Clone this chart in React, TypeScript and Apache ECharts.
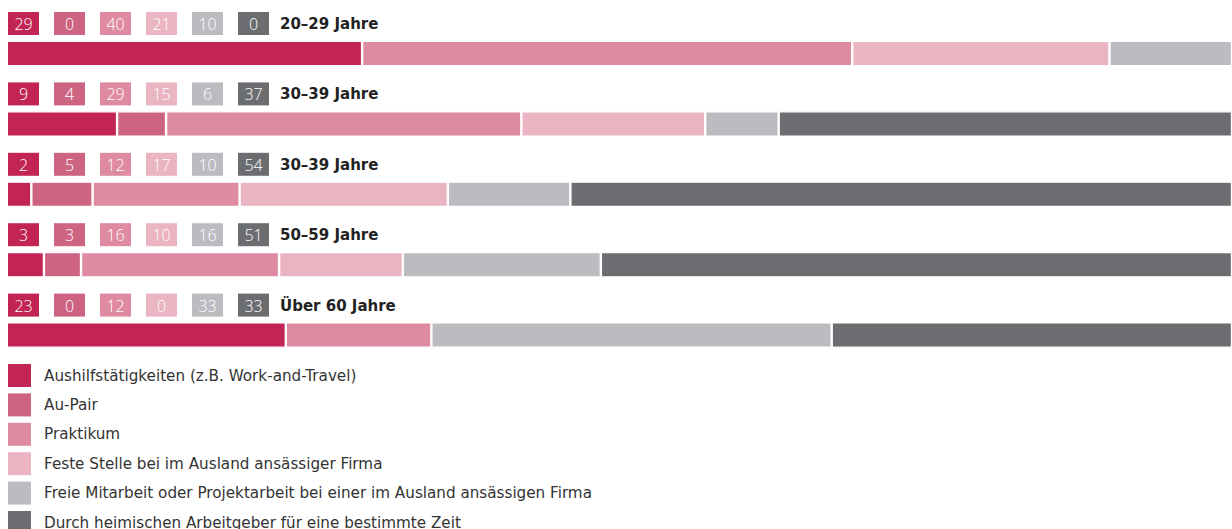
import React, { useEffect, useRef } from "react";
import * as echarts from "echarts";

const categories = ["20–29 Jahre", "30–39 Jahre", "30–39 Jahre", "50–59 Jahre", "Über 60 Jahre"];
const seriesNames = [
  "Aushilfstätigkeiten (z.B. Work-and-Travel)",
  "Au-Pair",
  "Praktikum",
  "Feste Stelle bei im Ausland ansässiger Firma",
  "Freie Mitarbeit oder Projektarbeit bei einer im Ausland ansässigen Firma",
  "Durch heimischen Arbeitgeber für eine bestimmte Zeit",
];
const aushilfe = [29, 9, 2, 3, 23];
const auPair = [0, 4, 5, 3, 0];
const praktikum = [40, 29, 12, 16, 12];
const feste = [21, 15, 17, 10, 0];
const freie = [10, 6, 10, 16, 33];
const durch = [0, 37, 54, 51, 33];

const seriesValues = [aushilfe, auPair, praktikum, feste, freie, durch];
const colors = ["#C22454", "#CC6482", "#DE8AA0", "#EAB4C3", "#BBBCC0", "#6C6D71"];

const W = 1232;
const H = 529;
const GRID_TOP = 18.3;
const BAND = 70.4;
const BAR_W = 23;
const BORDER = 1.2;
const FONT = "'DejaVu Sans', 'Open Sans', sans-serif";
const NUM_FONT = "'Open Sans', Roboto, sans-serif";

export default function App() {
  const ref = useRef<HTMLDivElement>(null);
  useEffect(() => {
    if (!ref.current) return;
    const chart = echarts.init(ref.current, null, { renderer: "svg" });
    const rowSums = categories.map((_, i) => seriesValues.reduce((s, arr) => s + arr[i], 0));

    const series = seriesValues.map((arr, j) => ({
      name: seriesNames[j],
      type: "bar",
      stack: "total",
      barWidth: BAR_W + 2 * BORDER,
      itemStyle: { color: colors[j], borderColor: "#ffffff", borderWidth: BORDER },
      emphasis: { disabled: true },
      data: arr.map((v, i) =>
        v === 0
          ? { value: 0, itemStyle: { borderWidth: 0 } }
          : { value: (v / rowSums[i]) * 100 }
      ),
    }));

    const graphics: any[] = [];
    categories.forEach((cat, i) => {
      const center = GRID_TOP + BAND * (i + 0.5);
      const boxTop = center - BAR_W / 2 - 30;
      seriesValues.forEach((arr, j) => {
        const x = 8 + j * 46;
        graphics.push({
          type: "rect",
          shape: { x, y: boxTop, width: 31, height: 23 },
          style: { fill: colors[j] },
          silent: true,
        });
        graphics.push({
          type: "text",
          x: x + 15.5,
          y: boxTop + 12,
          style: {
            text: String(arr[i]),
            fill: "#ffffff",
            font: `300 16px ${NUM_FONT}`,
            align: "center",
            verticalAlign: "middle",
          },
          silent: true,
        });
      });
      graphics.push({
        type: "text",
        x: 280,
        y: boxTop + 12,
        style: {
          text: cat,
          fill: "#222222",
          font: `bold 15px ${FONT}`,
          align: "left",
          verticalAlign: "middle",
        },
        silent: true,
      });
    });

    chart.setOption({
      animation: false,
      textStyle: { fontFamily: FONT },
      grid: { left: 8 - BORDER, right: -BORDER, top: GRID_TOP, height: BAND * 5, containLabel: false },
      xAxis: { type: "value", min: 0, max: 100, show: false },
      yAxis: { type: "category", data: categories, inverse: true, show: false },
      legend: {
        orient: "vertical",
        left: 8,
        top: 364,
        height: 220,
        padding: 0,
        itemWidth: 23,
        itemHeight: 23,
        itemGap: 6.4,
        icon: "rect",
        selectedMode: false,
        itemStyle: { borderWidth: 0 },
        textStyle: { fontSize: 15.2, color: "#333333", padding: [0, 0, 0, 8], fontFamily: FONT },
        data: seriesNames,
      },
      series,
      graphic: graphics,
    });
    return () => chart.dispose();
  }, []);
  return (
    <div
      ref={ref}
      style={{ position: "absolute", left: 0, top: 0, width: W, height: H, background: "#fff" }}
    />
  );
}
